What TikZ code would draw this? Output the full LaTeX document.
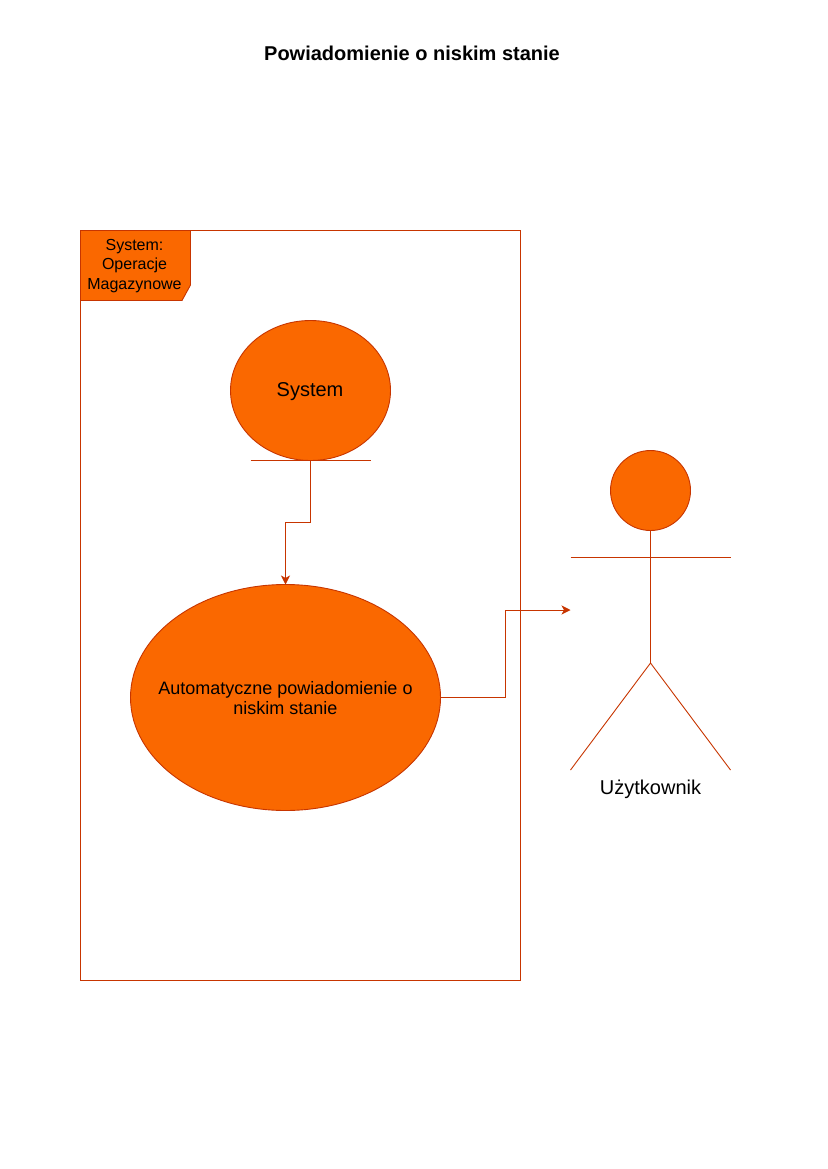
\documentclass[tikz,border=0pt]{standalone}
\usepackage{fontspec}
\setmainfont{Liberation Sans}
\usetikzlibrary{arrows.meta,shapes.geometric}
\definecolor{orangefill}{HTML}{FA6800}
\definecolor{orangeline}{HTML}{C73500}
\tikzset{
  lineart/.style={color=orangeline, line width=0.9pt},
  shapefill/.style={lineart, fill=orangefill, text=black},
  connector/.style={lineart, -{Stealth[length=9pt,width=9pt,inset=2.5pt]}},
  usecase/.style={shapefill, ellipse, inner sep=0pt, outer sep=0pt}
}
\begin{document}
\begin{tikzpicture}[x=1pt, y=-1pt]
    \useasboundingbox (0, 0) rectangle (827, 1169);
    % title
    \node (title) at (412, 53.5) {\fontsize{20pt}{24pt}\selectfont\bfseries Powiadomienie o niskim stanie};
    % frame
    \node [lineart, draw, minimum width=440pt, minimum height=750pt, inner sep=0pt, outer sep=0pt] (frame) at (300.5, 605.5) {};
    \draw [shapefill] (frame.north west) -- (190.5, 230.5) -- (190.5, 285) -- (182, 300.5) -- (80.5, 300.5) -- cycle;
    \node [align=center, font=\fontsize{16pt}{19.5pt}\selectfont] (framelabel) at (134.5, 266) {System:\\Operacje\\Magazynowe};
    % system
    \node [usecase, draw, minimum width=160pt, minimum height=140pt] (system) at (310.5, 390.5) {};
    \node [font=\fontsize{20pt}{24pt}\selectfont] (systemlabel) at (310, 392) {System};
    \coordinate (baseleft) at (250.5, 460.5);
    \coordinate (baseright) at (370.5, 460.5);
    \coordinate (bendone) at (310.5, 522);
    \draw [lineart] (baseleft) -- (baseright);
    % use case
    \node [usecase, draw, minimum width=310pt, minimum height=226pt] (notify) at (285.5, 697.5) {};
    \node [align=center, font=\fontsize{18pt}{20pt}\selectfont] (notifylabel) at (285.5, 698.5) {Automatyczne powiadomienie o\\niskim stanie};
    % actor
    \node [shapefill, draw, circle, minimum size=80pt, inner sep=0pt, outer sep=0pt] (head) at (650.5, 490.5) {};
    \coordinate (armleft) at (570.5, 557);
    \coordinate (armright) at (730.5, 557);
    \coordinate (hip) at (650.5, 663);
    \coordinate (footleft) at (570.5, 770);
    \coordinate (footright) at (730.5, 770);
    \coordinate (target) at (570.5, 610);
    \draw [lineart] (armleft) -- (armright);
    \draw [lineart] (head.south) -- (hip);
    \draw [lineart] (footleft) -- (hip) -- (footright);
    \node [font=\fontsize{20pt}{24pt}\selectfont] (actor) at (650.5, 789) {Użytkownik};
    % connectors
    \draw [connector] (system.south) -- (bendone) -| (notify.north);
    \draw [connector] (notify.east) -| (505, 610) -- (target);
\end{tikzpicture}
\end{document}
